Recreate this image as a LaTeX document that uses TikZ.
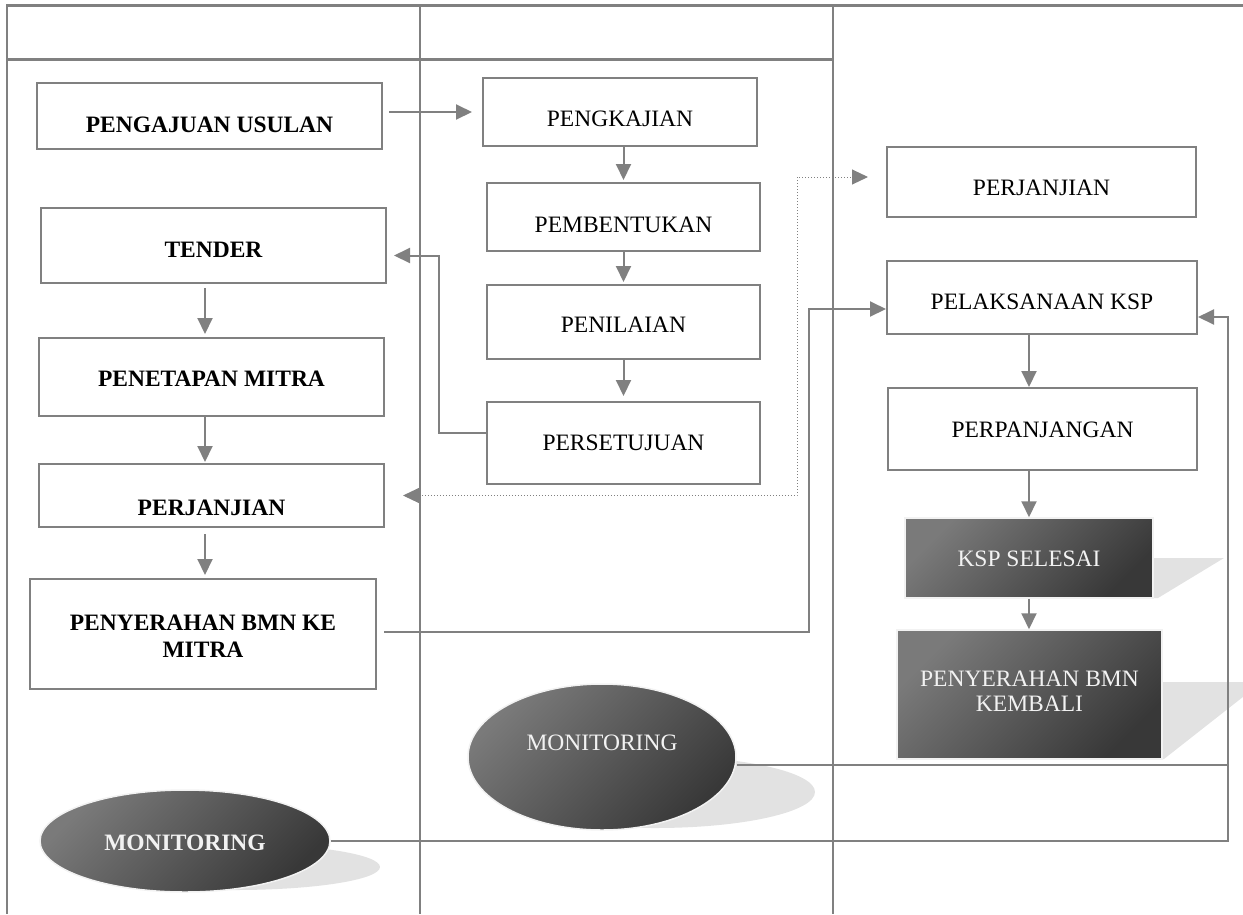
\documentclass[tikz,border=0pt]{standalone}
\usepackage{fontspec}
\setmainfont{Liberation Serif}
\usetikzlibrary{arrows.meta,shapes.geometric}
\definecolor{ln}{RGB}{128,128,128}
\definecolor{dkA}{RGB}{122,122,122}
\definecolor{dkB}{RGB}{56,56,56}
\definecolor{shd}{RGB}{226,226,226}
\definecolor{wt}{RGB}{242,242,242}
\tikzset{
  box/.style={draw=ln, line width=2pt, fill=white, inner sep=0pt},
  dbox/.style={draw=wt, line width=1.5pt, top color=dkA, bottom color=dkB, shading angle=45, inner sep=0pt},
  dell/.style={ellipse, draw=wt, line width=1.5pt, top color=dkA, bottom color=dkB, shading angle=45, inner sep=0pt},
  txt/.style={font=\fontsize{23.5}{27}\selectfont, text=black, align=center, inner sep=0pt},
  btxt/.style={txt, font=\fontsize{23.5}{27}\selectfont\bfseries},
  wtxt/.style={txt, text=wt},
  grid/.style={draw=ln, line width=1.5pt},
  thick grid/.style={draw=ln, line width=3pt},
  conn/.style={draw=ln, line width=2pt},
  arr/.style={conn, -{Triangle[length=16pt,width=15pt]}},
  dotarr/.style={draw=ln, line width=1pt, dotted, {Triangle[length=16pt,width=15pt,fill=ln]}-{Triangle[length=16pt,width=15pt,fill=ln]}},
}
\begin{document}
\begin{tikzpicture}[x=1pt,y=-1pt]
\useasboundingbox (0,0) rectangle (1243,914);
% table
\draw[thick grid] (7,5) -- (1243,5);
\draw[thick grid] (7,59) -- (833,59);
\draw[draw=ln, line width=2pt] (7,4) -- (7,914);
\draw[grid] (420,4) -- (420,914);
\draw[grid] (833,4) -- (833,914);
% shadows
\fill[shd] (1153,558) -- (1224,558) -- (1158,598) -- (1153,598) -- cycle;
\fill[shd] (1162,682) -- (1262,682) -- (1164,759) -- (1162,759) -- cycle;
\fill[shd] (655,792) ellipse [x radius=160pt, y radius=36pt];
\fill[shd] (235,867) ellipse [x radius=145pt, y radius=23pt];
% left column
\node[box, minimum width=345pt, minimum height=66pt] (usulan) at (209.5,116) {};
\node[btxt] (usulan-t) at (209.5,125) {PENGAJUAN USULAN};
\node[box, minimum width=345pt, minimum height=75pt] (tender) at (213.5,245.5) {};
\node[btxt] (tender-t) at (213.5,250) {TENDER};
\node[box, minimum width=345pt, minimum height=78pt] (penetapan) at (211.5,377) {};
\node[btxt] (penetapan-t) at (211.5,379) {PENETAPAN MITRA};
\node[box, minimum width=345pt, minimum height=63pt] (perjL) at (211.5,495.5) {};
\node[btxt] (perjL-t) at (211.5,508) {PERJANJIAN};
\node[box, minimum width=346pt, minimum height=110pt] (penyerahan) at (203,634) {};
\node[btxt] (penyerahan-t) at (203,636) {PENYERAHAN BMN KE\\MITRA};
% middle column
\node[box, minimum width=274pt, minimum height=68pt] (pengkajian) at (620,112) {};
\node[txt] (pengkajian-t) at (620,119) {PENGKAJIAN};
\node[box, minimum width=273pt, minimum height=68pt] (pembentukan) at (623.5,217) {};
\node[txt] (pembentukan-t) at (623.5,225) {PEMBENTUKAN};
\node[box, minimum width=273pt, minimum height=74pt] (penilaian) at (623.5,322) {};
\node[txt] (penilaian-t) at (623.5,325) {PENILAIAN};
\node[box, minimum width=273pt, minimum height=82pt] (persetujuan) at (623.5,443) {};
\node[txt] (persetujuan-t) at (623.5,443) {PERSETUJUAN};
% right column
\node[box, minimum width=309pt, minimum height=70pt] (perjR) at (1041.5,182) {};
\node[txt] (perjR-t) at (1041.5,188) {PERJANJIAN};
\node[box, minimum width=310pt, minimum height=73pt] (pelaksanaan) at (1042,297.5) {};
\node[txt] (pelaksanaan-t) at (1042,302) {PELAKSANAAN KSP};
\node[box, minimum width=309pt, minimum height=82pt] (perpanjangan) at (1042.5,429) {};
\node[txt] (perpanjangan-t) at (1042.5,430) {PERPANJANGAN};
\node[dbox, minimum width=248pt, minimum height=80pt] (ksp) at (1029,558) {};
\node[wtxt] (ksp-t) at (1029,559) {KSP SELESAI};
\node[dbox, minimum width=265pt, minimum height=129pt] (kembali) at (1029.5,694.5) {};
\node[wtxt, font=\fontsize{23.5}{25}\selectfont] (kembali-t) at (1029.5,691) {PENYERAHAN BMN\\KEMBALI};
% monitoring ellipses
\node[dell, minimum width=268pt, minimum height=146pt] (mon1) at (602,757) {};
\node[wtxt] (mon1-t) at (602,743) {MONITORING};
\node[dell, minimum width=290pt, minimum height=102pt] (mon2) at (185,841) {};
\node[wtxt, font=\fontsize{23.5}{27}\selectfont\bfseries] (mon2-t) at (185,843) {MONITORING};
\coordinate (rail) at (1228,317);
% connectors
\draw[arr, shorten <=6pt, shorten >=10pt] (usulan.east |- pengkajian.west) -- (pengkajian.west);
\draw[arr, shorten >=2pt] (pembentukan.north |- pengkajian.south) -- (pembentukan.north);
\draw[arr, shorten >=2pt] (pembentukan.south) -- (penilaian.north);
\draw[arr, shorten >=5pt] (penilaian.south) -- (persetujuan.north);
\draw[arr, shorten >=7pt] ([yshift=10pt]persetujuan.west) -- ++(-47,0) |- ([yshift=-10pt]tender.east);
\draw[arr, shorten <=4pt, shorten >=3pt] ([xshift=-8.5pt]tender.south) -- ([xshift=-8.5pt]tender.south |- penetapan.north);
\draw[arr, shorten >=1pt] ([xshift=-6.5pt]penetapan.south) -- ([xshift=-6.5pt]penetapan.south |- perjL.north);
\draw[arr, shorten <=6pt, shorten >=3pt] ([xshift=-6.5pt]perjL.south) -- ([xshift=-6.5pt]perjL.south |- penyerahan.north);
\draw[dotarr, shorten <=18pt, shorten >=18pt] (perjL.east) -- ++(412,0) |- ([yshift=5pt]perjR.west);
\draw[arr, shorten <=7pt] ([yshift=2pt]penyerahan.east) -- ++(432,0) |- ([yshift=-11.5pt]pelaksanaan.west);
\draw[arr] ([xshift=-13pt]pelaksanaan.south) -- ([xshift=-13pt]pelaksanaan.south |- perpanjangan.north);
\draw[arr] (ksp.north |- perpanjangan.south) -- (ksp.north);
\draw[arr] (ksp.south) -- (ksp.south |- kembali.north);
\draw[conn] ([yshift=-8pt]mon1.east) -- ([yshift=-8pt]mon1.east -| rail);
\draw[arr] (mon2.east) -| (rail) -- ([yshift=-19.5pt]pelaksanaan.east);
\end{tikzpicture}
\end{document}
